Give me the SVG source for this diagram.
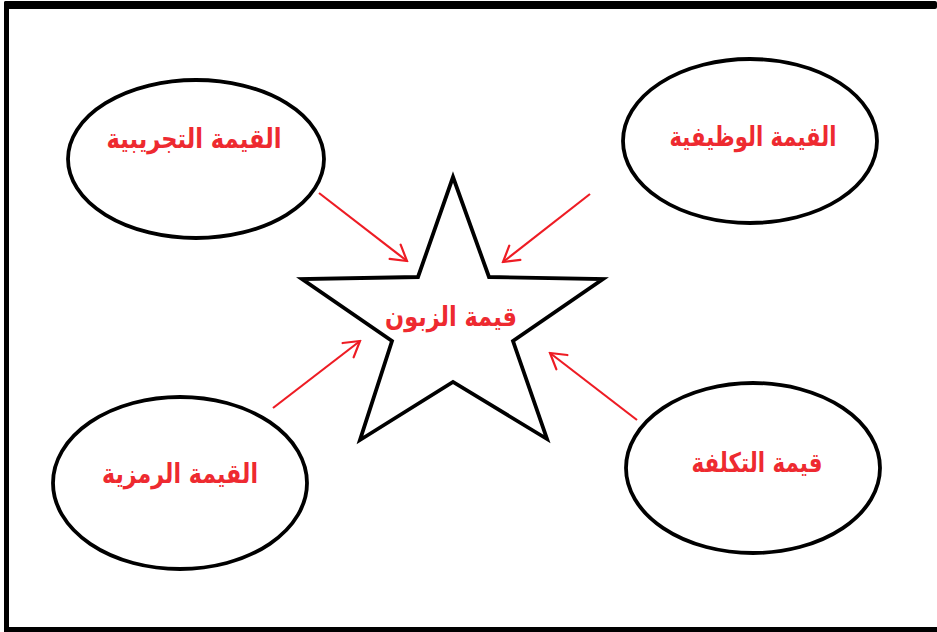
<svg xmlns="http://www.w3.org/2000/svg" width="937" height="632" viewBox="0 0 937 632">
<defs>
<style>
.shape{fill:#fff;stroke:#000;stroke-width:3.8;stroke-linejoin:miter}
.lbl{fill:#ee2a30;font-family:"DejaVu Sans",sans-serif;font-weight:bold;font-size:27px;text-anchor:middle;dominant-baseline:central}
.arr{stroke:#ee1c24;stroke-width:2.2;fill:none;marker-end:url(#ah)}
</style>
<marker id="ah" viewBox="0 0 22 22" refX="20" refY="11" markerWidth="22" markerHeight="22" markerUnits="userSpaceOnUse" orient="auto">
<path d="M5,2 L20,11 L5,20" fill="none" stroke="#ee1c24" stroke-width="2.2" stroke-linecap="round"/>
</marker>
</defs>
<rect width="937" height="632" fill="#fff"/>
<g id="frame" fill="#000">
<rect x="4" y="1" width="933" height="8" rx="2"/>
<rect x="4" y="1" width="5" height="631" rx="2"/>
<rect x="4" y="627" width="933" height="5"/>
</g>
<g id="connectors">
<line class="arr" x1="319" y1="193" x2="407" y2="261"/>
<line class="arr" x1="590" y1="194" x2="503" y2="262"/>
<line class="arr" x1="273" y1="408" x2="360" y2="341"/>
<line class="arr" x1="637" y1="420" x2="550" y2="353"/>
</g>
<g id="star">
<polygon class="shape" points="453,177 489,277 603,279 513,341 547,439 453,382 360,440 392,341 302,279 418,277"/>
<text class="lbl" x="451" y="316" textLength="132" lengthAdjust="spacingAndGlyphs">قيمة الزبون</text>
</g>
<g id="experiential">
<ellipse class="shape" cx="196" cy="159" rx="128" ry="79"/>
<text class="lbl" x="194" y="138" textLength="175" lengthAdjust="spacingAndGlyphs">القيمة التجريبية</text>
</g>
<g id="functional">
<ellipse class="shape" cx="750" cy="141" rx="127" ry="82"/>
<text class="lbl" x="753" y="136" textLength="167" lengthAdjust="spacingAndGlyphs">القيمة الوظيفية</text>
</g>
<g id="symbolic">
<ellipse class="shape" cx="180" cy="483" rx="127" ry="86"/>
<text class="lbl" x="180" y="473" textLength="156" lengthAdjust="spacingAndGlyphs">القيمة الرمزية</text>
</g>
<g id="cost">
<ellipse class="shape" cx="753" cy="468" rx="127" ry="85"/>
<text class="lbl" x="757" y="462" textLength="131" lengthAdjust="spacingAndGlyphs">قيمة التكلفة</text>
</g>
</svg>
